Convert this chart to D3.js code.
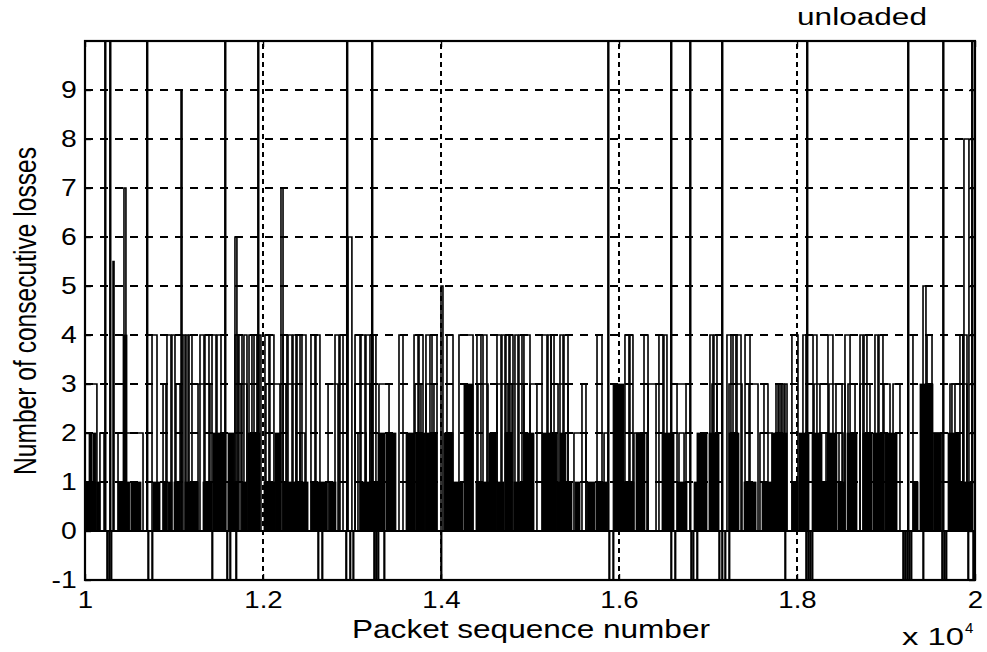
<!DOCTYPE html>
<html>
<head>
<meta charset="utf-8">
<script src="https://cdnjs.cloudflare.com/ajax/libs/d3/7.8.5/d3.min.js"></script>
<style>
  body { margin: 0; background: #fff; }
  svg { display: block; font-family: 'Liberation Sans', Arial, Helvetica, sans-serif; }
</style>
</head>
<body>
<svg width="987" height="652"></svg>
<script>

// axis ticks
let xTicks = [10000, 12000, 14000, 16000, 18000, 20000];
let xTickLabels = ['1', '1.2', '1.4', '1.6', '1.8', '2'];
let yTicks = [-1, 0, 1, 2, 3, 4, 5, 6, 7, 8, 9];
let gridY = [1, 2, 3, 4, 5, 6, 7, 8, 9];
let gridX = [12000, 14000, 16000, 18000];

// every burst is [first seq, last seq, consecutive losses]
// bursts running off the top of the plot
let offScaleBursts = [
    [10225, 10231, 15], [10281, 10287, 15], [10696, 10702, 15], [11573, 11579, 15],
    [11944, 11950, 15], [12943, 12949, 15], [13224, 13230, 15], [15877, 15883, 15],
    [16584, 16590, 15], [16798, 16804, 15], [17157, 17163, 15], [18112, 18118, 15],
    [19247, 19253, 15], [19641, 19647, 15], [19966, 19972, 15]
];

// samples flagged -1
let dropouts = [
    [10247, 10254, -1], [10270, 10277, -1], [10292, 10299, -1], [10708, 10715, -1],
    [10753, 10760, -1], [11427, 11434, -1], [11595, 11602, -1], [11629, 11636, -1],
    [11696, 11703, -1], [12618, 12625, -1], [12663, 12670, -1], [12932, 12939, -1],
    [12977, 12984, -1], [13012, 13019, -1], [13247, 13254, -1], [13269, 13276, -1],
    [13292, 13299, -1], [13360, 13367, -1], [14000, 14007, -1], [15888, 15895, -1],
    [15933, 15940, -1], [16584, 16591, -1], [16629, 16636, -1], [16809, 16816, -1],
    [16832, 16839, -1], [16876, 16883, -1], [17124, 17131, -1], [17157, 17164, -1],
    [17191, 17198, -1], [17236, 17243, -1], [17865, 17872, -1], [18101, 18108, -1],
    [18124, 18131, -1], [18146, 18153, -1], [18169, 18176, -1], [19191, 19198, -1],
    [19213, 19220, -1], [19236, 19243, -1], [19258, 19265, -1], [19281, 19288, -1],
    [19416, 19423, -1], [19629, 19636, -1], [19652, 19659, -1], [19674, 19681, -1],
    [19921, 19928, -1], [19978, 19985, -1]
];

// isolated long bursts (5 and more)
let highBursts = [
    [10315, 10326, 5.5], [10438, 10460, 7], [11079, 11090, 9], [11685, 11707, 6],
    [12202, 12225, 7], [12955, 12999, 6], [14000, 14022, 5], [19416, 19449, 5],
    [19876, 19932, 8]
];

// bursts of 2 to 4 losses
let midBursts = [
    [10000, 10134, 3], [10168, 10214, 2], [10371, 10652, 2], [10753, 10809, 4],
    [10877, 10910, 3], [10921, 10966, 4], [10977, 11011, 4], [11022, 11068, 3],
    [11101, 11124, 4], [11135, 11158, 4], [11169, 11202, 4], [11270, 11404, 3],
    [11292, 11337, 4], [11348, 11393, 4], [11427, 11472, 4], [11483, 11528, 4],
    [11685, 11719, 4], [11730, 11764, 4], [11753, 11820, 3], [11786, 11820, 4],
    [11843, 11876, 4], [11899, 11932, 4], [11955, 11977, 4], [12022, 12067, 4],
    [12078, 12123, 4], [12033, 12191, 3], [12225, 12269, 4], [12281, 12326, 4],
    [12337, 12371, 4], [12258, 12371, 3], [12382, 12416, 4], [12438, 12483, 4],
    [12416, 12472, 2], [12539, 12584, 4], [12595, 12640, 4], [12731, 12843, 3],
    [12809, 12854, 4], [12865, 12899, 4], [13034, 13090, 4], [13101, 13146, 4],
    [13157, 13202, 4], [13236, 13269, 4], [13034, 13202, 3], [13067, 13157, 2],
    [13303, 13416, 3], [13528, 13573, 4], [13697, 13742, 4], [13753, 13798, 4],
    [13831, 13876, 4], [13899, 13955, 4], [13708, 13775, 3], [13831, 13921, 3],
    [14067, 14135, 4], [14202, 14360, 4], [14404, 14449, 4], [14472, 14516, 4],
    [14415, 14528, 3], [14629, 14674, 4], [14685, 14719, 4], [14730, 14764, 4],
    [14775, 14809, 4], [14831, 14865, 4], [14876, 14910, 4], [14629, 14753, 3],
    [14798, 14932, 3], [14932, 15000, 4], [15000, 15078, 3], [15135, 15191, 4],
    [15202, 15236, 4], [15236, 15270, 4], [15337, 15371, 4], [15382, 15427, 4],
    [15315, 15427, 3], [15494, 15629, 2], [15584, 15629, 3], [15753, 15809, 4],
    [15832, 15877, 2], [16067, 16112, 4], [16123, 16157, 4], [16168, 16314, 2],
    [16281, 16326, 4], [16326, 16416, 3], [16449, 16494, 4], [16505, 16539, 4],
    [16652, 16753, 3], [16674, 16731, 2], [17022, 17056, 4], [17067, 17101, 4],
    [17045, 17101, 3], [17213, 17258, 4], [17281, 17314, 4], [17326, 17371, 4],
    [17236, 17382, 3], [17416, 17472, 4], [17461, 17562, 3], [17584, 17719, 2],
    [17629, 17674, 3], [17764, 17787, 3], [17798, 17820, 3], [17832, 17854, 3],
    [17865, 17888, 3], [17943, 18011, 4], [18067, 18101, 4], [18180, 18224, 4],
    [18191, 18258, 3], [18258, 18326, 2], [18348, 18404, 4], [18359, 18438, 3],
    [18472, 18517, 2], [18506, 18539, 3], [18539, 18596, 4], [18573, 18652, 3],
    [18708, 18741, 4], [18753, 18786, 4], [18876, 18910, 4], [18921, 18966, 4],
    [18708, 18820, 3], [18977, 19045, 3], [19079, 19157, 3], [19247, 19303, 4],
    [19461, 19517, 4], [19528, 19629, 2], [19719, 19775, 3], [19831, 19865, 4],
    [19865, 19910, 4], [19741, 19910, 3]
];

// stretches where short bursts follow each other packet after packet
let denseRuns = [
    [10011, 10056, 1], [10067, 10123, 1], [10134, 10168, 1], [10045, 10079, 2],
    [10090, 10123, 2], [10371, 10438, 1], [10449, 10505, 1], [10517, 10629, 1],
    [10427, 10472, 4], [10764, 10843, 1], [10877, 10921, 1], [10933, 10977, 1],
    [11000, 11068, 1], [11124, 11270, 1], [11326, 11427, 1], [11438, 11584, 2],
    [11607, 11719, 1], [11607, 11674, 2], [11764, 11820, 1], [11831, 11966, 2],
    [12011, 12135, 1], [12135, 12202, 2], [12225, 12360, 1], [12360, 12506, 1],
    [12539, 12719, 1], [12742, 12820, 1], [13090, 13292, 1], [13292, 13371, 2],
    [13382, 13494, 2], [13607, 13708, 2], [13719, 13820, 2], [13831, 13955, 2],
    [14034, 14135, 2], [14135, 14247, 1], [14258, 14360, 3], [14393, 14539, 1],
    [14539, 14618, 2], [14629, 14708, 1], [14719, 14798, 2], [14820, 14955, 1],
    [14932, 15045, 2], [15135, 15303, 2], [15303, 15472, 1], [15337, 15404, 2],
    [15506, 15562, 1], [15641, 15730, 1], [15742, 15866, 1], [15933, 16056, 3],
    [16056, 16168, 1], [16191, 16292, 2], [16483, 16618, 2], [16652, 16764, 1],
    [16843, 16899, 1], [16876, 16989, 2], [17011, 17124, 2], [17236, 17348, 2],
    [17405, 17540, 1], [17607, 17719, 1], [17719, 17888, 2], [17943, 18011, 1],
    [18022, 18135, 2], [18169, 18281, 2], [18258, 18337, 1], [18337, 18449, 2],
    [18461, 18539, 1], [18562, 18674, 2], [18741, 18843, 2], [18854, 18977, 2],
    [18989, 19124, 2], [19303, 19360, 1], [19382, 19528, 3], [19539, 19618, 2],
    [19697, 19831, 2], [19831, 19966, 1]
];

let svg = d3.select('svg');

let margin = { top: 41, right: 12, bottom: 72, left: 85 };
let width = +svg.attr('width');
let height = +svg.attr('height');

let x = d3.scaleLinear()
    .domain([10000, 20000])
    .range([margin.left, width - margin.right]);

let y = d3.scaleLinear()
    .domain([-1, 10])
    .range([height - margin.bottom, margin.top]);

svg.append('defs').append('clipPath')
    .attr('id', 'plot-area')
    .append('rect')
    .attr('x', margin.left)
    .attr('y', margin.top)
    .attr('width', width - margin.left - margin.right)
    .attr('height', height - margin.top - margin.bottom);

// grid
svg.append('g').selectAll('line')
    .data(gridY)
    .enter().append('line')
    .attr('x1', x(10000)).attr('x2', x(20000))
    .attr('y1', d => y(d)).attr('y2', d => y(d))
    .attr('stroke', '#000')
    .attr('stroke-width', 1.8)
    .attr('stroke-dasharray', '8,7');

svg.append('g').selectAll('line')
    .data(gridX)
    .enter().append('line')
    .attr('x1', d => x(d)).attr('x2', d => x(d))
    .attr('y1', y(-1)).attr('y2', y(10))
    .attr('stroke', '#000')
    .attr('stroke-width', 2)
    .attr('stroke-dasharray', '5,4');

let plot = svg.append('g').attr('clip-path', 'url(#plot-area)');

plot.append('g').selectAll('rect')
    .data(denseRuns)
    .enter().append('rect')
    .attr('x', d => x(d[0]))
    .attr('y', d => y(d[2]))
    .attr('width', d => x(d[1]) - x(d[0]))
    .attr('height', d => y(0) - y(d[2]))
    .attr('fill', '#000')
    .attr('stroke', '#000')
    .attr('stroke-width', 0.8);

plot.append('line')
    .attr('x1', x(10000)).attr('x2', x(20000))
    .attr('y1', y(0)).attr('y2', y(0))
    .attr('stroke', '#000')
    .attr('stroke-width', 1.8);

let pulse = d3.line()
    .x(p => x(p[0]))
    .y(p => y(p[1]));

let burstPath = d => pulse([[d[0], 0], [d[0], d[2]], [d[1], d[2]], [d[1], 0]]);

[midBursts, highBursts, offScaleBursts, dropouts].forEach(set => {
    plot.append('g').selectAll('path')
        .data(set)
        .enter().append('path')
        .attr('d', burstPath)
        .attr('fill', 'none')
        .attr('stroke', '#000')
        .attr('stroke-width', set === offScaleBursts ? 1.9 : 1.6);
});

// axes box
svg.append('rect')
    .attr('x', margin.left)
    .attr('y', margin.top)
    .attr('width', width - margin.left - margin.right)
    .attr('height', height - margin.top - margin.bottom)
    .attr('fill', 'none')
    .attr('stroke', '#000')
    .attr('stroke-width', 2.2);

let yAxis = svg.append('g')
    .attr('transform', 'translate(' + margin.left + ',0)')
    .call(d3.axisLeft(y).tickValues(yTicks).tickFormat(d => '' + d)
        .tickSizeInner(-6).tickSizeOuter(0).tickPadding(7));

let xAxis = svg.append('g')
    .attr('transform', 'translate(0,' + (height - margin.bottom) + ')')
    .call(d3.axisBottom(x).tickValues(xTicks).tickFormat((d, i) => xTickLabels[i])
        .tickSizeInner(-6).tickSizeOuter(0).tickPadding(12));

svg.append('g')
    .attr('transform', 'translate(' + (width - margin.right) + ',0)')
    .call(d3.axisRight(y).tickValues(yTicks).tickSizeInner(-6).tickSizeOuter(0).tickFormat(''));

svg.append('g')
    .attr('transform', 'translate(0,' + margin.top + ')')
    .call(d3.axisTop(x).tickValues(xTicks).tickSizeInner(-6).tickSizeOuter(0).tickFormat(''));

svg.selectAll('.domain').remove();
svg.selectAll('.tick line').attr('stroke', '#000').attr('stroke-width', 1.4);

yAxis.selectAll('text')
    .style('font-size', '24px')
    .attr('fill', '#000')
    .attr('transform', 'scale(1.18,1)');

xAxis.selectAll('text')
    .style('font-size', '23px')
    .attr('fill', '#000')
    .attr('transform', 'scale(1.2,1)');

svg.selectAll('.tick text').attr('font-family', 'Liberation Sans, Arial, sans-serif');

// labels
svg.append('text')
    .attr('x', 531)
    .attr('y', 638)
    .attr('text-anchor', 'middle')
    .attr('font-size', '25px')
    .attr('textLength', 358)
    .attr('lengthAdjust', 'spacingAndGlyphs')
    .text('Packet sequence number');

svg.append('text')
    .attr('text-anchor', 'middle')
    .attr('transform', 'translate(36,311) scale(1.3,1) rotate(-90)')
    .attr('font-size', '24px')
    .attr('textLength', 328)
    .attr('lengthAdjust', 'spacingAndGlyphs')
    .text('Number of consecutive losses');

svg.append('text')
    .attr('x', 797)
    .attr('y', 25)
    .attr('font-size', '23px')
    .attr('textLength', 130)
    .attr('lengthAdjust', 'spacingAndGlyphs')
    .text('unloaded');

svg.append('text')
    .attr('x', 902)
    .attr('y', 645)
    .attr('font-size', '23px')
    .attr('textLength', 62)
    .attr('lengthAdjust', 'spacingAndGlyphs')
    .text('x 10');

svg.append('text')
    .attr('x', 965)
    .attr('y', 633)
    .attr('font-size', '15px')
    .text('4');

</script>
</body>
</html>
